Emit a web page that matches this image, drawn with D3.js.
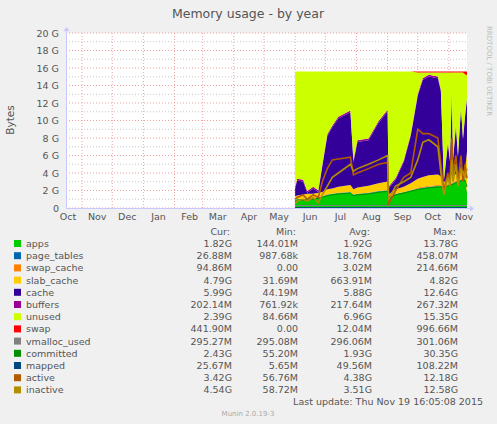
<!DOCTYPE html>
<html><head><meta charset="utf-8">
<script src="https://cdn.jsdelivr.net/npm/d3@7"></script>
<style>body{margin:0;background:#f0f0f0}svg{font-family:"DejaVu Sans",sans-serif}</style>
</head><body><svg id="c"></svg>
<script>
// sample dates (2015)
const dates = ["06-01","06-03","06-09","06-13","06-19","06-24","06-28","07-03","07-08","07-14","07-26","07-29","08-02","08-13","08-23","09-01","09-02","09-09","09-17","09-24","10-01","10-06","10-12","10-21","10-24","10-27","10-31","11-02","11-04","11-05","11-08","11-10","11-13","11-15","11-17","11-19"];
// stacked series, in G
const apps = [0.9,1.0,1.0,1.1,1.1,1.2,1.3,1.5,1.6,1.7,1.8,1.5,1.6,1.7,1.9,2.0,1.2,1.6,1.8,2.0,2.2,2.3,2.4,2.5,2.5,2.4,2.6,2.7,2.8,2.8,3.0,3.0,3.2,3.3,3.3,1.8];
const pageTables = [0.03,0.03,0.03,0.03,0.03,0.03,0.03,0.03,0.03,0.03,0.03,0.03,0.03,0.03,0.03,0.03,0.03,0.03,0.03,0.03,0.03,0.03,0.03,0.03,0.03,0.03,0.03,0.03,0.03,0.03,0.03,0.03,0.03,0.03,0.03,0.03];
const swapCache = [0,0,0,0,0,0,0,0,0,0,0,0,0,0,0,0,0,0,0,0,0.1,0.1,0.1,0.1,0.1,0.1,0.1,0.1,0.1,0.1,0.1,0.1,0.1,0.1,0.1,0.1];
const slabCache = [0.4,0.4,0.5,0.5,0.5,0.5,0.5,0.6,0.6,0.7,0.8,0.6,0.7,0.8,0.9,1.0,0.3,0.5,0.6,0.8,1.0,1.1,1.2,1.2,1.0,0.4,0.7,0.6,1.0,0.5,0.8,0.6,0.9,0.7,1.0,4.5];
const cache = [0.9,1.7,1.5,0.1,0.6,0.1,2.9,6.1,7.0,7.8,8.3,3.1,5.2,5.2,6.9,8.0,0.7,1.1,2.8,5.4,9.5,11.1,11.3,11.0,9.7,0.1,3.9,1.9,9.4,1.9,5.4,2.1,7.1,3.7,5.9,6.0];
const buffers = [0.2,0.2,0.2,0.2,0.2,0.2,0.2,0.2,0.2,0.2,0.2,0.2,0.2,0.2,0.2,0.2,0.2,0.2,0.2,0.2,0.2,0.2,0.2,0.2,0.2,0.2,0.2,0.2,0.2,0.2,0.2,0.2,0.2,0.2,0.2,0.2];
const swap = [0,0,0,0,0,0,0,0,0,0,0,0,0,0,0,0,0,0,0,0,0.1,0.1,0.1,0.1,0.1,0.1,0.1,0.1,0.1,0.1,0.1,0.1,0.1,0.1,0.3,0.44];
const ramTotal = [15.6,15.6,15.6,15.6,15.6,15.6,15.6,15.6,15.6,15.6,15.6,15.6,15.6,15.6,15.6,15.6,15.6,15.6,15.6,15.6,15.6,15.6,15.6,15.6,15.6,15.6,15.6,15.6,15.6,15.6,15.6,15.6,15.6,15.6,15.6,15.6];
// line series
const vmallocUsed = [0.29,0.29,0.29,0.29,0.29,0.29,0.29,0.29,0.29,0.29,0.29,0.29,0.29,0.29,0.29,0.29,0.29,0.29,0.29,0.29,0.29,0.29,0.29,0.29,0.29,0.29,0.29,0.29,0.29,0.29,0.29,0.29,0.29,0.29,0.29,0.29];
const committed = [0.8,0.9,0.9,1.0,1.0,1.1,1.2,1.4,1.5,1.6,1.7,1.4,1.5,1.6,1.8,1.9,1.1,1.5,1.7,1.9,2.1,2.2,2.3,2.4,2.4,2.3,2.5,2.6,2.7,2.7,2.9,2.9,3.1,3.2,3.2,2.4];
const mapped = [0.05,0.05,0.05,0.05,0.05,0.05,0.05,0.05,0.05,0.05,0.05,0.05,0.05,0.05,0.05,0.05,0.05,0.05,0.05,0.05,0.05,0.05,0.05,0.05,0.05,0.05,0.05,0.05,0.05,0.05,0.05,0.05,0.05,0.05,0.05,0.03];
const active = [1.0,1.2,1.5,1.0,1.5,1.2,3.0,4.5,5.5,5.6,5.8,3.8,4.0,4.5,5.0,5.2,0.5,2.0,3.5,4.0,9.0,8.5,8.5,8.0,5.0,2.0,4.0,3.0,8.0,4.0,6.0,3.0,6.0,3.0,5.0,3.4];
const inactive = [0.5,0.8,1.0,0.8,1.2,0.6,1.5,2.5,3.5,4.0,5.0,4.2,4.5,5.0,5.5,6.0,1.0,2.5,3.0,3.5,5.5,7.5,7.8,7.0,4.0,1.5,3.5,2.5,5.5,3.0,5.0,2.5,4.5,4.0,3.5,4.5];

const monthLabels = ["Oct","Nov","Dec","Jan","Feb","Mar","Apr","May","Jun","Jul","Aug","Sep","Oct","Nov"];
const yTicks = [0,2,4,6,8,10,12,14,16,18,20];
const legendNames = ["apps","page_tables","swap_cache","slab_cache","cache","buffers","unused","swap","vmalloc_used","committed","mapped","active","inactive"];
const legendColors = ["#00CC00","#0066B3","#FF8000","#FFCC00","#330099","#990099","#CCFF00","#FF0000","#808080","#008F00","#00487D","#B35A00","#B38F00"];
const curVals = ["1.82G","26.88M","94.86M","4.79G","5.99G","202.14M","2.39G","441.90M","295.27M","2.43G","25.67M","3.42G","4.54G"];
const minVals = ["144.01M","987.68k","0.00","31.69M","44.19M","761.92k","84.66M","0.00","295.08M","55.20M","5.65M","56.76M","58.72M"];
const avgVals = ["1.92G","18.76M","3.02M","663.91M","5.88G","217.64M","6.96G","12.04M","296.06M","1.93G","49.56M","4.38G","3.51G"];
const maxVals = ["13.78G","458.07M","214.66M","4.82G","12.64G","267.32M","15.35G","996.66M","301.06M","30.35G","108.22M","12.18G","12.58G"];

const W = 497, H = 424;
const svg = d3.select("#c").attr("width", W).attr("height", H);
const x = d3.scaleTime().domain([new Date(2014,9,16), new Date(2015,10,19)]).range([66, 467]);
const y = d3.scaleLinear().domain([0, 20]).range([208, 33]);
const parse = (s) => new Date(2015, +s.slice(0,2) - 1, +s.slice(3));

svg.append("rect").attr("x", 66).attr("y", 33).attr("width", 401).attr("height", 175).attr("fill", "#fff");

// grid
for (let g = 0; g <= 20; g++) {
  svg.append("line").attr("x1", 66).attr("x2", 467).attr("y1", y(g)).attr("y2", y(g))
    .attr("stroke", g % 2 ? "#c8c8c8" : "#f0a0a0").attr("stroke-dasharray", "1,2").attr("stroke-width", 1);
}
const months = d3.timeMonth.range(new Date(2014,10,1), new Date(2015,10,2));
months.forEach((m) => {
  svg.append("line").attr("x1", x(m)).attr("x2", x(m)).attr("y1", 33).attr("y2", 208)
    .attr("stroke", "#f0a0a0").attr("stroke-dasharray", "1,2");
});

const rows = dates.map((d, i) => {
  const used = apps[i] + pageTables[i] + swapCache[i] + slabCache[i] + cache[i] + buffers[i];
  return {date: parse(d), apps: apps[i], page_tables: pageTables[i], swap_cache: swapCache[i],
    slab_cache: slabCache[i], cache: cache[i], buffers: buffers[i],
    unused: Math.max(0, ramTotal[i] - used - swap[i]), swap: swap[i]};
});
const keys = legendNames.slice(0, 8);
const stacked = d3.stack().keys(keys)(rows);
const area = d3.area().x((d) => x(d.data.date)).y0((d) => y(d[0])).y1((d) => y(d[1]));
svg.append("g").selectAll("path").data(stacked).join("path")
  .attr("d", area).attr("fill", (d, i) => legendColors[i]);

const lineSeries = [vmallocUsed, committed, mapped, active, inactive];
lineSeries.forEach((vals, j) => {
  svg.append("path").datum(vals)
    .attr("d", d3.line().x((d, i) => x(parse(dates[i]))).y((d) => y(d)))
    .attr("fill", "none").attr("stroke", legendColors[8 + j]).attr("stroke-width", j >= 3 ? 1.6 : 1);
});

// axes lines
svg.append("line").attr("x1", 66).attr("x2", 470).attr("y1", 208.5).attr("y2", 208.5).attr("stroke", "#c8c8ff");
svg.append("line").attr("x1", 66.5).attr("x2", 66.5).attr("y1", 30).attr("y2", 208).attr("stroke", "#c8c8ff");
svg.append("path").attr("d", "M470,205.5L474,208.5L470,211.5Z").attr("fill", "#c8c8ff");
svg.append("path").attr("d", "M63.5,31L66.5,27L69.5,31Z").attr("fill", "#c8c8ff");

const txt = (t, xx, yy, anchor, size, col) => svg.append("text").text(t).attr("x", xx).attr("y", yy)
  .attr("text-anchor", anchor || "start").attr("font-size", size || 9.5).attr("fill", col || "#555");

yTicks.forEach((t) => txt(t ? t + " G" : "0", 59, y(t) + 3.5, "end"));
const labelMonths = d3.timeMonth.range(new Date(2014,9,1), new Date(2015,11,1));
labelMonths.forEach((m, i) => {
  const mid = x(new Date(m.getFullYear(), m.getMonth(), 16));
  txt(monthLabels[i], Math.max(68, Math.min(mid, 465)), 220, "middle");
});
txt("Memory usage - by year", 248, 18, "middle", 12.5);
svg.append("text").text("Bytes").attr("transform", "translate(14,120) rotate(-90)")
  .attr("text-anchor", "middle").attr("font-size", 10.5).attr("fill", "#555");
svg.append("text").text("RRDTOOL / TOBI OETIKER").attr("transform", "translate(487,26) rotate(90)")
  .attr("font-size", 7).attr("fill", "#bbb");

// legend
txt("Cur:", 230, 235, "end"); txt("Min:", 296, 235, "end"); txt("Avg:", 370, 235, "end"); txt("Max:", 456, 235, "end");
legendNames.forEach((n, i) => {
  const yy = 247 + i * 12.2;
  svg.append("rect").attr("x", 14).attr("y", yy - 7).attr("width", 7).attr("height", 7).attr("fill", legendColors[i]);
  txt(n, 26, yy, "start");
  txt(curVals[i], 232, yy, "end");
  txt(minVals[i], 298, yy, "end");
  txt(avgVals[i], 372, yy, "end");
  txt(maxVals[i], 458, yy, "end");
});
txt("Last update:  Thu Nov 19 16:05:08 2015", 483, 405, "end");
txt("Munin 2.0.19-3", 248, 416, "middle", 7, "#aaa");
</script></body></html>
